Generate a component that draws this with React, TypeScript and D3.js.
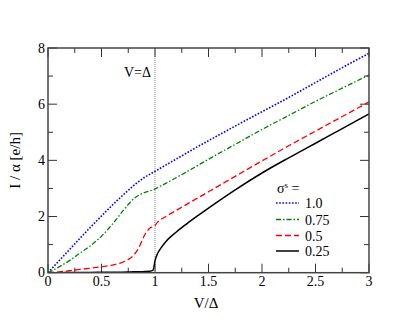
import React from "react";
import * as d3 from "d3";

const vGrid = [0, 0.1, 0.2, 0.3, 0.4, 0.5, 0.6, 0.7, 0.75, 0.8, 0.85, 0.9, 0.95, 0.98, 0.99, 1.0, 1.01, 1.02, 1.05, 1.1, 1.2, 1.3, 1.4, 1.5, 1.75, 2.0, 2.25, 2.5, 2.75, 3.0];

const sigma100 = [0, 0.41, 0.82, 1.23, 1.63, 2.02, 2.4, 2.76, 2.93, 3.1, 3.25, 3.39, 3.5, 3.565, 3.587, 3.61, 3.632, 3.654, 3.72, 3.83, 4.05, 4.27, 4.49, 4.7, 5.22, 5.73, 6.24, 6.77, 7.3, 7.81];
const sigma075 = [0, 0.2, 0.43, 0.7, 0.97, 1.3, 1.72, 2.2, 2.43, 2.63, 2.76, 2.85, 2.91, 2.95, 2.965, 2.98, 3.0, 3.02, 3.08, 3.18, 3.39, 3.6, 3.82, 4.04, 4.57, 5.1, 5.6, 6.1, 6.57, 7.04];
const sigma050 = [0, 0.03, 0.07, 0.12, 0.16, 0.21, 0.27, 0.38, 0.47, 0.62, 0.9, 1.32, 1.58, 1.64, 1.65, 1.68, 1.73, 1.78, 1.88, 2.0, 2.22, 2.44, 2.66, 2.88, 3.43, 3.98, 4.52, 5.04, 5.56, 6.08];
const sigma025 = [0, 0, 0.005, 0.01, 0.01, 0.015, 0.02, 0.02, 0.025, 0.03, 0.03, 0.04, 0.05, 0.08, 0.2, 0.42, 0.55, 0.65, 0.85, 1.1, 1.45, 1.75, 2.03, 2.3, 2.95, 3.55, 4.09, 4.61, 5.13, 5.65];

const seriesLabels = ["1.0", "0.75", "0.5", "0.25"];
const xTickLabels = ["0", "0.5", "1", "1.5", "2", "2.5", "3"];
const yTickLabels = ["0", "2", "4", "6", "8"];

const W = 415, H = 321;
const FONT = "'Times New Roman', 'Liberation Serif', 'DejaVu Serif', serif";

export default function App() {
  const x = d3.scaleLinear().domain([0, 3]).range([48, 369]);
  const y = d3.scaleLinear().domain([0, 8]).range([272.7, 48]);

  const series = [
    { vals: sigma100, color: "#0000ff", dash: "1.6,1.6", width: 1.6 },
    { vals: sigma075, color: "#008000", dash: "5,2,1.5,2", width: 1.3 },
    { vals: sigma050, color: "#ff0000", dash: "6,3", width: 1.3 },
    { vals: sigma025, color: "#000000", dash: null, width: 1.5 },
  ];

  const line = d3
    .line<number>()
    .x((_, i) => x(vGrid[i]))
    .y((d) => y(d))
    .curve(d3.curveMonotoneX);

  const xMajor = d3.range(0, 3.001, 0.5);
  const xMinor = d3.range(0.25, 3, 0.5);
  const yMajor = d3.range(0, 8.001, 2);
  const yMinor = d3.range(1, 8, 2);
  const [x0, x1] = x.range();
  const [y0, y1] = y.range();
  const tickCol = "#333";
  const maj = 9, mn = 5;

  const legendX0 = 276, legendX1 = 299;
  const legendYs = [203, 219.5, 235.5, 251];
  const ts = { fontFamily: FONT };

  return (
    <svg width={W} height={H} style={{ position: "absolute", left: 0, top: 0, background: "#fff" }}>
      <defs>
        <clipPath id="plot">
          <rect x={x0} y={y1} width={x1 - x0} height={y0 - y1} />
        </clipPath>
      </defs>
      {/* V=Delta dotted line */}
      <line x1={x(1)} x2={x(1)} y1={y1} y2={y0} stroke="#888" strokeWidth={1} strokeDasharray="1,1" />
      <text x={151} y={77} fontSize={14} textAnchor="end" style={ts}>V=Δ</text>

      {/* ticks */}
      {xMajor.map((v) => (
        <g key={"xm" + v}>
          <line x1={x(v)} x2={x(v)} y1={y0} y2={y0 - maj} stroke={tickCol} strokeWidth={1} />
          <line x1={x(v)} x2={x(v)} y1={y1} y2={y1 + maj} stroke={tickCol} strokeWidth={1} />
        </g>
      ))}
      {xMinor.map((v) => (
        <g key={"xn" + v}>
          <line x1={x(v)} x2={x(v)} y1={y0} y2={y0 - mn} stroke={tickCol} strokeWidth={1} />
          <line x1={x(v)} x2={x(v)} y1={y1} y2={y1 + mn} stroke={tickCol} strokeWidth={1} />
        </g>
      ))}
      {yMajor.map((v) => (
        <g key={"ym" + v}>
          <line x1={x0} x2={x0 + maj} y1={y(v)} y2={y(v)} stroke={tickCol} strokeWidth={1} />
          <line x1={x1} x2={x1 - maj} y1={y(v)} y2={y(v)} stroke={tickCol} strokeWidth={1} />
        </g>
      ))}
      {yMinor.map((v) => (
        <g key={"yn" + v}>
          <line x1={x0} x2={x0 + mn} y1={y(v)} y2={y(v)} stroke={tickCol} strokeWidth={1} />
          <line x1={x1} x2={x1 - mn} y1={y(v)} y2={y(v)} stroke={tickCol} strokeWidth={1} />
        </g>
      ))}

      {/* curves */}
      <g clipPath="url(#plot)">
        {series.map((s, i) => (
          <path key={i} d={line(s.vals) || ""} fill="none" stroke={s.color} strokeWidth={s.width} strokeDasharray={s.dash || undefined} />
        ))}
      </g>

      {/* frame */}
      <rect x={x0} y={y1} width={x1 - x0} height={y0 - y1} fill="none" stroke="#444" strokeWidth={1.5} />

      {/* tick labels */}
      {xMajor.map((v, i) => (
        <text key={"xl" + v} x={x(v)} y={285.5} fontSize={14} textAnchor="middle" style={ts}>{xTickLabels[i]}</text>
      ))}
      {yMajor.map((v, i) => (
        <text key={"yl" + v} x={45} y={y(v) + 4.5} fontSize={14} textAnchor="end" style={ts}>{yTickLabels[i]}</text>
      ))}

      {/* axis titles */}
      <text x={206} y={308} fontSize={15} textAnchor="middle" style={ts}>V/Δ</text>
      <text transform={`translate(20,${(y0 + y1) / 2}) rotate(-90)`} fontSize={15} textAnchor="middle" style={ts}>I / α [e/h]</text>

      {/* legend */}
      <text x={277} y={193} fontSize={14} style={ts}>σ<tspan dy={-5} fontSize={9}>s</tspan><tspan dy={5}> =</tspan></text>
      {series.map((s, i) => (
        <g key={"lg" + i}>
          <line x1={legendX0} x2={legendX1} y1={legendYs[i]} y2={legendYs[i]} stroke={s.color} strokeWidth={s.width} strokeDasharray={s.dash || undefined} />
          <text x={305} y={legendYs[i] + 5} fontSize={14} style={ts}>{seriesLabels[i]}</text>
        </g>
      ))}
    </svg>
  );
}
